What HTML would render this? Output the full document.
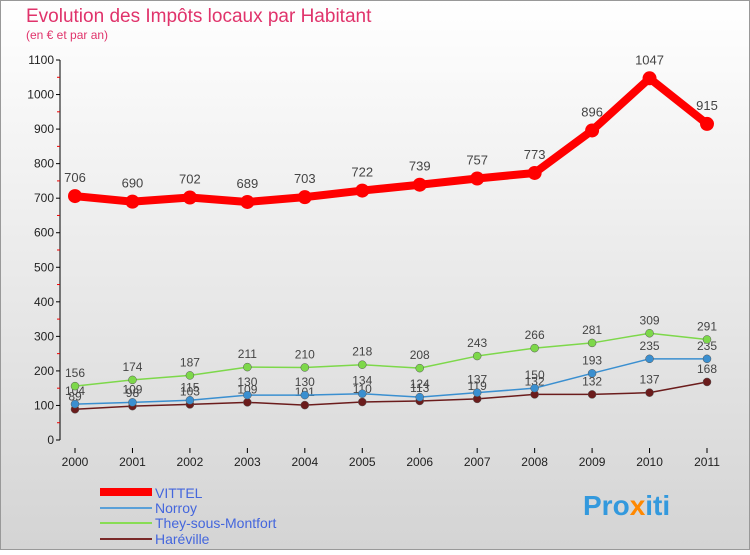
<!DOCTYPE html>
<html><head><meta charset="utf-8"><style>
body{margin:0;width:750px;height:550px;overflow:hidden;font-family:"Liberation Sans",sans-serif}
svg text{font-family:"Liberation Sans",sans-serif}
</style></head><body>
<svg id="c" width="750" height="550">
<defs><linearGradient id="bg" x1="0" y1="0" x2="0" y2="1"><stop offset="0" stop-color="#ffffff"/><stop offset="1" stop-color="#d4d4d4"/></linearGradient></defs>
<rect x="0.5" y="0.5" width="749" height="549" fill="url(#bg)" stroke="#999"/>
<text x="26" y="22" font-size="19" fill="#e0336b">Evolution des Impôts locaux par Habitant</text>
<text x="26" y="39" font-size="12" fill="#e0336b">(en € et par an)</text>
<g id="axes"></g><g id="series"></g>
<g>
<rect x="100" y="488" width="52" height="8" fill="#ff0000"/>
<text x="155" y="498" font-size="14" fill="#4466dd">VITTEL</text>
<rect x="100" y="507" width="52" height="2" fill="#5aa0d8"/>
<text x="155" y="513" font-size="14" fill="#4466dd">Norroy</text>
<rect x="100" y="522" width="52" height="2" fill="#88dd55"/>
<text x="155" y="528" font-size="14" fill="#4466dd">They-sous-Montfort</text>
<rect x="100" y="538" width="52" height="2" fill="#7a2a2a"/>
<text x="155" y="544" font-size="14" fill="#4466dd">Haréville</text>
</g>
<text x="583" y="515" font-size="28" font-weight="bold" fill="#3399dd">Pro<tspan fill="#ff8800">x</tspan>iti</text>
</svg>
<script>
const years=["2000","2001","2002","2003","2004","2005","2006","2007","2008","2009","2010","2011"];
const vittel=[706,690,702,689,703,722,739,757,773,896,1047,915];
const norroy=[104,109,115,130,130,134,124,137,150,193,235,235];
const they=[156,174,187,211,210,218,208,243,266,281,309,291];
const hareville=[89,98,103,109,101,110,113,119,132,132,137,168];
const yTicks=[0,100,200,300,400,500,600,700,800,900,1000,1100];
const NS="http://www.w3.org/2000/svg";
const X=i=>75+i*(707-75)/11, Y=v=>440-v*380/1100;
function mk(t,a,p){const e=document.createElementNS(NS,t);for(const k in a)e.setAttribute(k,a[k]);p.appendChild(e);return e;}
const ax=document.getElementById('axes'), sg=document.getElementById('series');
let l=mk('line',{x1:60,y1:Y(1100),x2:60,y2:440,stroke:'#000'},ax);


yTicks.forEach(v=>{
 mk('line',{x1:56,y1:Y(v),x2:60,y2:Y(v),stroke:'#000'},ax);
 if(v<1100)mk('line',{x1:57,y1:Y(v+50),x2:60,y2:Y(v+50),stroke:'#e00'},ax);
 const t=mk('text',{x:54,y:Y(v)+4,'font-size':12,'text-anchor':'end',fill:'#222'},ax);t.textContent=v;
 
 
});
years.forEach((y,i)=>{
 mk('line',{x1:X(i),y1:448,x2:X(i),y2:453,stroke:'#000'},ax);
 const t=mk('text',{x:X(i),y:466,'font-size':12,'text-anchor':'middle',fill:'#222'},ax);t.textContent=y;
 
 
});
function series(d,name,col,w,r,fs,lab){
 const g=mk('g',{},sg);
 
 
 mk('polyline',{points:d.map((v,i)=>X(i)+','+Y(v)).join(' '),fill:'none',stroke:col,'stroke-width':w,'stroke-linejoin':'round'},g);
 d.forEach((v,i)=>{
  const c=mk('circle',{cx:X(i),cy:Y(v),r:r,fill:col,stroke:w>3?'none':'#555','stroke-width':0.5},g);
  
  
  const t=mk('text',{x:X(i),y:Y(v)-lab,'font-size':fs,'text-anchor':'middle',fill:'#444'},g);t.textContent=v;
  
  
 });
}
series(hareville,'hareville','#6b1c1c',1.5,4,12,9);
series(norroy,'norroy','#3a8fd0',1.5,4,12,9);
series(they,'they','#7dd84a',1.5,4,12,9);
series(vittel,'vittel','#ff0000',8,7,13,14);
</script>
</body></html>
